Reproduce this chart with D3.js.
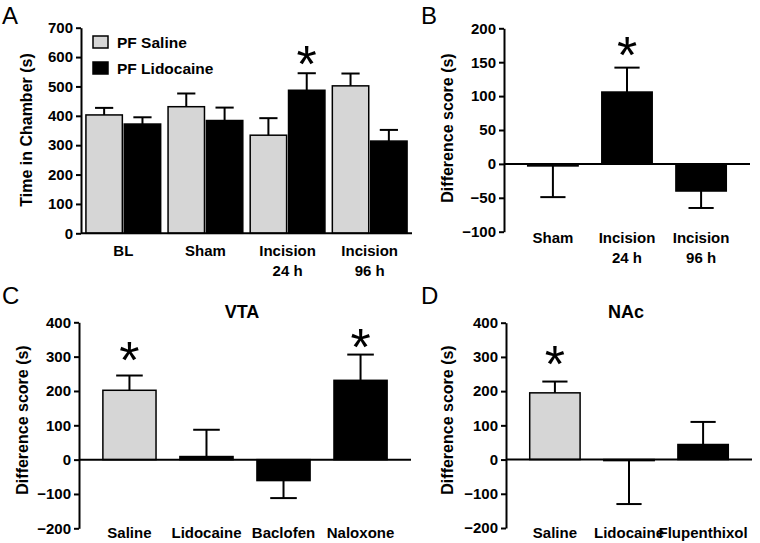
<!DOCTYPE html>
<html><head><meta charset="utf-8">
<script src="https://cdn.jsdelivr.net/npm/d3@7"></script>
<style>
body{margin:0;background:#fff}
svg text{font-family:"Liberation Sans",Arial,Helvetica,sans-serif}
</style>
</head><body>
<svg id="chart" width="760" height="543"></svg>
<script>
// ---------- DATA ----------
// Panel A
const groupsA = [["BL"], ["Sham"], ["Incision", "24 h"], ["Incision", "96 h"]];
const seriesA = ["PF Saline", "PF Lidocaine"];
const salineA = [403, 431, 334, 502];
const salineErrA = [24, 45, 58, 42];
const lidocaineA = [372, 384, 487, 314];
const lidocaineErrA = [23, 44, 58, 38];
const ticksA = [0, 100, 200, 300, 400, 500, 600, 700];
const starsA = [{ group: 2, series: 1, y: 617 }];

// Panel B
const categoriesB = [["Sham"], ["Incision", "24 h"], ["Incision", "96 h"]];
const valuesB = [-3, 106, -40];
const errB = [46, 36, 25];
const ticksB = [-100, -50, 0, 50, 100, 150, 200];
const starsB = [{ index: 1, y: 178 }];

// Panel C
const categoriesC = [["Saline"], ["Lidocaine"], ["Baclofen"], ["Naloxone"]];
const valuesC = [202, 9, -61, 231];
const errC = [43, 78, 51, 75];
const ticksC = [-200, -100, 0, 100, 200, 300, 400];
const starsC = [{ index: 0, y: 326 }, { index: 3, y: 364 }];

// Panel D
const categoriesD = [["Saline"], ["Lidocaine"], ["Flupenthixol"]];
const valuesD = [195, -3, 44];
const errD = [33, 127, 66];
const ticksD = [-200, -100, 0, 100, 200, 300, 400];
const starsD = [{ index: 0, y: 316 }];

// ---------- STYLE ----------
const GRAY = "#d6d6d6";
const BLACK = "#000";
const svg = d3.select("#chart");

function yAxis(g, y, ticks, x) {
  const ax = g.append("g").attr("transform", `translate(${x},0)`)
    .call(d3.axisLeft(y).tickValues(ticks).tickSize(5).tickPadding(3).tickSizeOuter(0).tickFormat(d3.format("d")));
  ax.select(".domain").attr("stroke", "#000").attr("stroke-width", 2);
  ax.selectAll(".tick line").attr("stroke", "#000").attr("stroke-width", 2);
  ax.selectAll(".tick text").attr("fill", "#000").style("font-size", "15px").style("font-weight", "bold")
    .style("font-family", '"Liberation Sans",Arial,sans-serif');
  return ax;
}

function yTitle(text, x, y) {
  svg.append("text").attr("transform", `translate(${x},${y}) rotate(-90)`)
    .attr("text-anchor", "middle").style("font-size", "16px").style("font-weight", "bold").text(text);
}

function panelLetter(t, x, y) {
  svg.append("text").attr("x", x).attr("y", y).style("font-size", "24px").text(t);
}

function catLabels(labels, xpos, y0) {
  labels.forEach((lines, i) => {
    const t = svg.append("text").attr("x", xpos(i)).attr("y", y0)
      .attr("text-anchor", "middle").style("font-size", "15px").style("font-weight", "bold");
    lines.forEach((l, j) => t.append("tspan").attr("x", xpos(i)).attr("dy", j === 0 ? 0 : 20).text(l));
  });
}

function errorBar(g, cx, w, y, v, e) {
  const end = v >= 0 ? v + e : v - e;
  g.append("line").attr("x1", cx).attr("x2", cx).attr("y1", y(v)).attr("y2", y(end))
    .attr("stroke", "#000").attr("stroke-width", 2);
  g.append("line").attr("x1", cx - w / 4).attr("x2", cx + w / 4).attr("y1", y(end)).attr("y2", y(end))
    .attr("stroke", "#000").attr("stroke-width", 2);
}

function star(cx, yy) {
  const fs = 52;
  svg.append("text").attr("x", cx).attr("y", yy + 0.58 * fs).attr("text-anchor", "middle")
    .style("font-size", fs + "px").text("*");
}

function bar(g, x0, w, y, v, fill) {
  g.append("rect").attr("x", x0).attr("width", w)
    .attr("y", Math.min(y(0), y(v))).attr("height", Math.max(Math.abs(y(v) - y(0)), 0.5))
    .attr("fill", fill).attr("stroke", "#000").attr("stroke-width", 1.5);
}

// ---------- PANEL A ----------
{
  const x0 = d3.scaleBand().domain(d3.range(groupsA.length)).range([81, 412]).paddingInner(0.09).paddingOuter(0.06);
  const x1 = d3.scaleBand().domain(d3.range(seriesA.length)).range([0, x0.bandwidth()]).paddingInner(0.05);
  const y = d3.scaleLinear().domain([0, 700]).range([233.3, 27.7]);
  const g = svg.append("g");
  const vals = [salineA, lidocaineA], errs = [salineErrA, lidocaineErrA], fills = [GRAY, BLACK];
  groupsA.forEach((_, i) => {
    seriesA.forEach((_, s) => {
      const bx = x0(i) + x1(s);
      bar(g, bx, x1.bandwidth(), y, vals[s][i], fills[s]);
    });
  });
  groupsA.forEach((_, i) => {
    seriesA.forEach((_, s) => {
      const bx = x0(i) + x1(s);
      errorBar(g, bx + x1.bandwidth() / 2, x1.bandwidth(), y, vals[s][i], errs[s][i]);
    });
  });
  yAxis(g, y, ticksA, 81);
  g.append("line").attr("x1", 81).attr("x2", 412).attr("y1", y(0)).attr("y2", y(0)).attr("stroke", "#000").attr("stroke-width", 2);
  catLabels(groupsA, i => x0(i) + x0.bandwidth() / 2, 256);
  yTitle("Time in Chamber (s)", 32, 130);
  panelLetter("A", 2, 24);
  starsA.forEach(s => star(x0(s.group) + x1(s.series) + x1.bandwidth() / 2, y(s.y)));
  // legend
  seriesA.forEach((name, s) => {
    const ly = 36 + s * 26;
    svg.append("rect").attr("x", 93).attr("y", ly).attr("width", 15).attr("height", 12)
      .attr("fill", fills[s]).attr("stroke", "#000").attr("stroke-width", 1.5);
    svg.append("text").attr("x", 117).attr("y", ly + 11.5).style("font-size", "15.5px").style("font-weight", "bold").text(name);
  });
}

// ---------- generic difference panel ----------
function diffPanel(opt) {
  const x = d3.scaleBand().domain(d3.range(opt.cats.length)).range([opt.left, opt.right]).padding(opt.pad);
  const y = d3.scaleLinear().domain(opt.domain).range(opt.yr);
  const g = svg.append("g");
  opt.vals.forEach((v, i) => bar(g, x(i), x.bandwidth(), y, v, opt.fills[i]));
  opt.vals.forEach((v, i) => errorBar(g, x(i) + x.bandwidth() / 2, x.bandwidth(), y, v, opt.errs[i]));
  yAxis(g, y, opt.ticks, opt.left);
  g.append("line").attr("x1", opt.left).attr("x2", opt.right).attr("y1", y(0)).attr("y2", y(0)).attr("stroke", "#000").attr("stroke-width", 2);
  catLabels(opt.cats, i => x(i) + x.bandwidth() / 2, opt.labelY);
  opt.stars.forEach(s => star(x(s.index) + x.bandwidth() / 2, y(s.y)));
  if (opt.title) svg.append("text").attr("x", (opt.left + opt.right) / 2 - 3).attr("y", opt.titleY)
    .attr("text-anchor", "middle").style("font-size", "18px").style("font-weight", "bold").text(opt.title);
}

diffPanel({ cats: categoriesB, vals: valuesB, errs: errB, ticks: ticksB, stars: starsB,
  fills: valuesB.map(() => BLACK), left: 504, right: 750, pad: 0.32, domain: [-100, 200], yr: [231.7, 28.3], labelY: 243 });
yTitle("Difference score (s)", 453, 128);
panelLetter("B", 421, 24);

diffPanel({ cats: categoriesC, vals: valuesC, errs: errC, ticks: ticksC, stars: starsC,
  fills: [GRAY, BLACK, BLACK, BLACK], left: 79, right: 411, pad: 0.31, domain: [-200, 400], yr: [528.3, 322.3], labelY: 538,
  title: "VTA", titleY: 318 });
yTitle("Difference score (s)", 28, 420);
panelLetter("C", 2, 304);

diffPanel({ cats: categoriesD, vals: valuesD, errs: errD, ticks: ticksD, stars: starsD,
  fills: [GRAY, BLACK, BLACK], left: 506, right: 752, pad: 0.32, domain: [-200, 400], yr: [528, 322.7], labelY: 538,
  title: "NAc", titleY: 318 });
yTitle("Difference score (s)", 453, 420);
panelLetter("D", 421, 304);
</script>
</body></html>
